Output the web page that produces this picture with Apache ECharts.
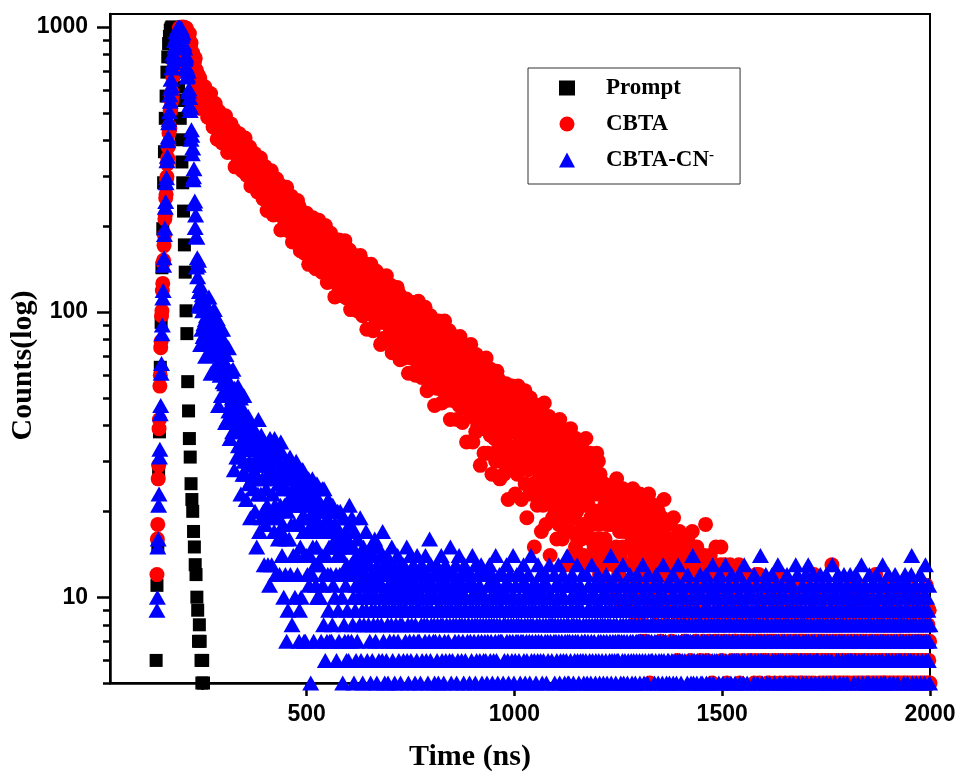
<!DOCTYPE html>
<html><head><meta charset="utf-8">
<script src="https://cdn.jsdelivr.net/npm/echarts@6/dist/echarts.min.js"></script>
<style>html,body{margin:0;padding:0;background:#fff}#chart{width:961px;height:776px}</style>
</head><body><div id="chart"></div>
<script>
// Time channels (ns): first channel and channel width of each measurement
const promptStartNs = 130, promptStepNs = 2;   // instrument response (prompt)
const sampleStartNs = 130, sampleStepNs = 1;   // CBTA and CBTA-CN- decays

const promptCounts = [1,1,2,3,6,11,15,27,38,64,92,143,196,284,365,478,572,694,785,874,926,975,990,1000,996,982,958,905,856,774,706,615,552,478,402,336,284,226,172,138,101,84,57,45,36,31,25,22,20,17,15,13,12,10,9,7,8,7,6,5,6,5,4,3,4,3];

const cbtaCounts = [
1,1,2,1,3,3,2,4,3,4,12,16,18,26,29,39,42,55,60,75,79,97,101,119,126,149,152,171,186,212,219,251,259,292,298,331,347,379,388,425,
448,439,510,508,579,546,592,568,668,678,674,747,708,778,777,862,779,847,840,902,827,929,926,905,992,943,984,924,997,988,971,995,958,1000,991,996,954,994,901,975,
938,989,897,939,952,841,935,876,948,824,856,783,879,784,812,706,812,752,769,679,751,695,777,654,681,705,599,670,631,679,599,625,572,662,582,605,517,614,556,593,
611,566,527,587,572,617,533,569,518,578,545,590,482,548,557,515,569,485,524,584,494,530,479,539,500,446,542,503,473,515,539,446,485,467,512,404,488,476,434,506,
466,421,476,442,494,424,447,392,471,453,421,471,407,451,427,488,389,433,410,449,363,440,421,391,454,400,425,365,457,404,383,433,364,408,390,437,362,414,323,395,
373,417,355,385,399,335,401,369,422,349,377,336,406,350,376,313,390,357,375,319,377,343,408,326,351,374,302,359,336,375,320,343,308,379,322,342,277,354,311,341,
350,317,288,335,325,360,297,325,288,333,310,345,264,315,323,292,333,272,302,347,281,309,271,318,290,250,322,295,273,305,324,256,285,273,308,227,291,284,253,308,
260,298,249,284,266,313,237,271,254,284,219,278,264,240,289,249,268,222,293,253,238,276,223,257,244,280,223,264,194,249,250,216,259,233,273,221,238,196,257,244,
249,223,274,210,231,249,193,237,219,251,208,227,199,255,211,227,176,236,204,227,206,241,192,216,226,179,229,205,246,190,212,180,235,193,213,164,224,198,213,171,
184,206,178,214,191,161,219,198,181,206,222,168,192,183,210,147,199,192,168,213,204,180,157,194,187,214,165,188,159,195,177,205,142,182,188,164,198,149,174,210,
179,152,186,166,198,157,171,138,186,176,157,188,150,178,163,201,141,169,155,180,127,175,164,146,185,153,169,133,189,158,145,177,135,163,152,181,136,169,113,158,
144,174,134,154,162,124,165,146,179,134,152,127,172,137,154,114,164,142,155,120,157,136,178,127,143,158,112,149,134,161,126,141,119,165,129,142,102,151,124,143,
150,130,111,142,136,158,119,137,113,144,129,152,101,133,139,119,147,108,127,158,115,133,110,140,122,97,144,127,114,135,148,103,123,116,139,87,130,124,105,142,
111,137,104,128,117,147,98,121,109,130,86,126,118,102,135,108,121,91,139,112,102,129,93,117,107,132,95,121,77,113,113,92,120,103,130,95,107,81,120,112,
117,100,134,91,105,117,80,111,98,120,92,105,86,124,95,105,72,113,90,107,93,116,84,101,107,75,110,93,122,84,100,78,116,87,100,68,109,92,102,74,
83,99,79,104,90,69,108,93,82,101,111,74,91,84,104,61,96,92,76,106,101,83,69,94,88,108,75,91,70,96,84,103,60,88,93,77,99,66,83,109,
87,68,92,78,101,72,82,59,93,86,73,94,68,87,78,104,62,81,72,89,53,86,79,66,94,72,83,57,97,75,67,89,60,79,72,92,61,84,47,77,
68,88,61,75,81,54,83,69,93,61,74,57,88,64,76,48,83,69,77,53,79,65,93,58,69,80,49,74,64,82,58,69,54,86,61,70,42,76,58,71,
76,62,49,71,66,82,55,68,51,72,62,78,42,65,69,56,75,47,61,82,53,66,49,70,58,41,74,62,52,67,76,46,60,54,70,35,64,61,47,72,
51,69,47,63,55,77,43,58,51,65,35,62,57,46,68,50,60,38,71,53,46,64,40,56,50,67,41,60,29,54,55,39,59,48,66,42,51,32,60,54,
57,45,69,40,49,58,32,53,45,60,40,49,37,63,42,50,27,55,40,51,42,58,36,47,52,30,54,43,62,37,47,33,58,39,48,26,54,43,49,30,
36,47,34,51,41,27,54,44,36,49,56,31,42,38,51,22,46,43,33,53,49,38,28,45,42,55,32,43,30,47,38,51,23,41,45,34,49,27,38,55,
41,29,45,35,51,31,38,22,46,41,32,47,29,42,36,53,25,38,32,44,19,42,37,28,47,32,40,23,50,35,29,44,24,37,33,47,25,41,15,36,
30,44,25,35,39,21,40,31,47,26,35,23,44,28,36,17,41,31,37,21,38,29,48,24,32,39,18,35,29,41,25,32,22,43,27,33,14,37,25,34,
37,27,19,33,30,41,23,32,20,35,28,39,16,30,33,24,37,18,28,42,22,31,20,34,26,16,37,28,22,32,38,17,27,24,34,13,30,28,19,36,
22,34,20,30,25,39,17,27,22,31,14,30,26,19,34,22,28,15,36,24,20,31,16,26,22,33,17,29,13,25,25,16,28,21,33,18,24,14,30,26,
28,21,36,17,23,29,13,26,21,30,18,23,16,32,19,24,13,28,18,25,19,30,15,23,26,13,27,20,32,16,23,14,30,18,24,12,27,20,24,13,
16,23,15,24,19,11,25,21,16,24,24,13,20,18,23,10,23,21,14,24,23,18,11,22,20,22,14,21,13,24,18,23,10,20,22,15,26,11,18,23,
20,12,23,17,23,14,19,9,23,20,15,24,13,21,17,22,11,19,15,22,9,21,18,13,22,15,20,9,21,17,13,23,10,19,16,24,11,21,8,18,
14,23,11,17,20,8,21,15,22,12,17,10,23,13,18,7,21,15,19,8,20,13,22,10,16,20,7,18,14,21,11,16,9,23,12,17,5,19,11,17,
16,11,19,13,9,15,21,12,14,8,17,13,10,18,15,12,20,9,14,16,11,13,7,17,14,19,10,12,15,9,22,13,11,16,14,8,12,18,13,10,
13,9,16,12,10,18,11,14,7,13,15,10,12,19,9,11,14,8,12,16,10,13,6,12,15,11,9,17,12,10,13,8,14,11,16,9,12,10,13,7,
12,9,14,10,7,13,11,16,8,12,10,15,9,11,6,13,12,9,17,10,11,8,14,12,9,10,13,7,11,15,10,12,8,11,14,9,10,13,6,11,
11,8,13,10,7,12,9,14,10,8,18,11,9,12,6,10,13,9,11,7,10,14,8,12,9,11,5,10,13,8,11,9,12,7,10,15,9,11,8,10,
10,7,12,9,11,8,13,15,9,6,10,12,8,11,9,7,13,10,8,11,9,5,12,10,8,9,11,7,10,13,8,9,11,6,10,12,9,8,10,7,
9,11,7,10,8,12,6,9,10,8,13,9,5,11,8,10,7,9,12,8,6,10,9,11,7,8,10,4,9,12,8,7,10,9,6,11,8,9,7,10,
8,10,6,9,7,11,8,5,9,10,7,8,12,6,9,8,10,7,12,9,5,8,10,7,9,6,11,8,4,9,10,7,8,11,6,9,8,10,7,5,
9,6,8,10,5,8,7,11,9,4,8,7,10,6,9,8,5,11,7,8,6,9,10,4,8,7,9,6,12,8,5,7,9,8,6,10,7,3,9,8,
7,9,5,8,6,10,7,4,9,8,6,11,7,5,8,9,6,7,10,5,8,3,9,7,6,8,10,7,5,9,6,8,4,7,11,6,8,9,5,7,
8,5,7,9,6,4,10,7,8,6,5,9,7,11,6,8,3,7,9,5,8,6,10,7,4,8,6,9,7,5,8,12,6,7,9,4,7,8,6,10,
6,9,7,4,8,5,10,7,6,8,3,9,7,5,8,6,11,7,4,9,6,8,5,7,10,6,3,8,7,5,9,6,8,4,13,7,6,9,5,8,
7,5,9,6,4,8,7,10,5,6,8,3,7,9,6,5,8,7,4,10,6,7,5,9,8,3,6,7,11,5,8,6,4,7,9,6,5,8,7,4,
6,8,4,7,9,5,6,10,7,3,8,6,5,9,7,4,6,8,11,5,7,6,4,9,8,5,7,3,6,10,7,5,8,6,4,9,7,6,8,5,
8,5,6,9,4,7,6,10,5,7,3,8,6,9,5,7,4,8,6,12,5,7,9,4,6,8,5,7,3,9,6,5,8,7,4,10,6,7,5,8,
5,7,9,4,6,8,5,7,10,3,6,8,7,5,9,4,6,7,8,5,11,6,4,7,9,5,6,8,3,7,6,9,5,4,8,7,6,10,5,7,
7,4,8,6,9,5,7,3,6,10,5,8,6,4,7,9,5,6,8,7,4,6,11,5,7,8,3,6,9,5,7,6,4,8,10,5,7,6,9,4,
6,8,5,7,4,9,6,7,10,5,3,8,6,7,5,9,4,6,8,7,5,11,6,4,7,8,5,6,9,7,5];

const cnCounts = [
1,1,1,2,3,2,4,3,4,4,9,10,15,16,21,23,31,33,44,47,61,66,84,90,112,119,146,155,187,197,233,244,284,296,339,352,399,411,461,473,
504,578,549,610,655,621,721,717,805,750,808,788,897,852,905,848,961,937,977,920,993,974,997,966,1000,995,936,990,966,989,925,941,882,954,865,872,774,844,770,782,
796,728,668,712,676,699,593,606,532,565,509,523,404,436,417,359,376,291,298,318,240,245,198,219,184,144,183,155,133,146,152,105,118,108,124,77,110,105,87,115,
101,82,105,91,113,84,94,70,104,97,84,105,78,97,87,113,71,90,80,97,61,93,86,73,100,77,88,63,102,80,71,92,63,82,75,95,63,86,47,78,
68,87,60,73,78,51,79,65,87,57,68,51,79,56,66,41,71,58,64,42,64,51,75,45,54,62,36,56,48,62,42,50,38,63,43,50,28,54,39,50,
53,41,31,47,43,55,34,43,31,46,38,50,23,40,43,33,46,27,36,51,30,39,27,41,33,22,43,35,29,38,43,25,33,30,39,19,35,33,26,40,
27,37,24,36,30,36,20,33,27,37,15,36,31,23,42,26,33,17,33,29,23,37,19,31,26,34,20,34,13,29,30,18,33,24,33,21,27,13,34,30,
32,11,36,19,26,33,13,29,23,34,20,26,17,36,21,27,12,31,19,28,20,33,16,25,28,12,29,21,35,17,24,14,32,18,25,10,29,21,26,12,
16,24,7,27,20,9,30,22,16,26,31,12,21,18,28,8,24,22,14,29,27,18,10,23,21,30,14,22,12,25,18,28,7,9,23,15,27,10,19,28,
21,28,24,17,7,14,19,7,25,21,14,26,12,22,17,26,11,19,14,23,5,22,18,12,26,15,20,7,25,17,13,23,11,19,15,25,10,21,10,18,
13,24,10,17,20,7,21,14,24,11,17,8,24,12,18,6,21,14,18,7,19,12,22,9,15,20,7,17,12,21,7,15,8,21,11,15,4,18,10,16,
18,12,6,16,14,20,9,15,7,17,12,20,3,14,16,10,19,5,12,19,8,15,7,17,11,3,6,13,9,16,7,6,12,21,18,3,15,13,7,19,
12,8,15,10,5,13,17,9,11,6,14,12,7,16,10,4,13,11,8,19,10,6,12,14,9,5,11,15,8,13,10,3,12,17,9,11,6,14,10,8,
10,13,7,11,5,15,9,12,6,10,14,8,4,11,16,9,7,12,10,5,13,8,11,15,6,9,12,3,10,14,8,11,6,17,9,7,13,10,5,12,
9,12,6,10,14,8,5,11,9,13,7,10,4,12,8,15,9,6,11,10,7,13,5,9,12,8,10,3,11,14,7,9,6,12,10,8,5,13,9,11,
8,11,10,6,13,9,4,12,7,10,9,15,6,11,8,5,10,12,7,9,14,6,10,8,11,3,9,13,7,10,12,5,8,11,9,6,14,10,7,9,
10,7,12,9,5,11,8,13,6,10,9,4,12,8,11,7,14,9,6,10,8,12,5,9,11,7,16,10,6,13,8,9,4,11,10,7,12,8,5,10,
7,10,9,13,6,8,11,5,9,12,7,10,3,8,14,9,6,11,8,10,5,12,7,9,13,6,10,8,4,11,9,7,12,10,6,8,15,9,5,10,
9,6,11,8,10,4,12,7,9,13,8,5,10,11,6,9,7,14,8,10,3,9,12,6,8,11,7,10,5,9,13,8,6,10,9,12,4,7,11,8,
8,11,5,9,7,12,10,6,8,14,9,4,11,7,10,8,5,13,9,6,10,8,12,7,3,9,11,6,8,10,13,7,5,9,12,8,6,10,9,7,
10,6,8,12,5,9,7,11,4,8,13,9,6,10,7,8,12,5,9,11,6,8,3,10,7,14,9,6,8,11,5,10,7,9,12,8,4,7,10,9,
7,9,12,5,8,10,6,11,8,4,9,13,7,10,6,8,5,11,9,7,12,3,8,10,6,9,7,14,8,5,10,9,6,11,7,8,12,4,9,7,
8,6,10,9,5,12,7,8,11,4,9,7,13,6,10,8,5,9,11,7,6,10,8,3,12,9,7,5,10,8,14,6,9,7,11,8,4,10,6,9,
9,7,5,11,8,10,6,13,7,9,4,8,12,6,10,7,9,5,11,8,6,9,3,10,7,12,8,5,9,11,7,6,10,8,13,4,9,7,8,10,
6,10,8,4,9,7,12,5,8,11,7,9,6,10,3,8,13,7,9,5,11,6,8,10,7,4,9,12,6,8,10,5,7,11,9,6,8,14,7,5,
8,5,11,7,9,6,10,4,8,12,7,9,5,8,11,6,10,7,3,9,8,13,6,7,10,5,9,8,11,6,4,10,7,9,12,6,8,5,10,7,
7,10,6,8,12,5,9,7,4,11,8,6,10,9,5,7,13,8,6,10,4,9,7,11,8,5,6,10,9,3,8,12,7,6,9,5,11,8,7,10,
9,6,8,11,5,7,10,4,8,9,6,12,7,5,10,8,3,9,11,6,7,8,14,5,9,6,10,7,4,8,11,6,9,7,5,12,8,6,10,7,
6,9,7,4,10,8,5,11,7,9,6,13,8,5,7,10,6,9,3,8,11,7,5,9,6,10,8,4,12,7,9,6,8,5,10,7,11,6,4,9,
8,5,10,7,6,12,9,4,7,8,11,6,5,9,7,10,3,8,6,13,7,9,5,8,10,6,4,11,7,9,5,8,12,6,7,10,4,9,8,6,
7,10,6,8,4,9,11,5,7,8,6,12,9,3,7,10,5,8,6,9,11,7,4,8,6,10,5,9,13,7,6,8,10,4,7,9,5,11,8,6,
9,6,8,5,11,7,4,10,8,6,9,12,5,7,8,3,10,6,9,7,5,11,8,6,13,7,4,9,6,10,8,5,7,11,6,9,4,8,10,7,
6,8,10,4,7,9,5,12,7,6,8,11,3,9,7,5,10,6,8,14,7,5,9,6,4,10,8,7,11,5,6,9,7,8,3,10,6,12,8,5,
8,7,5,10,6,9,4,11,7,8,6,12,5,9,7,3,10,8,6,9,5,11,7,4,8,10,6,13,7,5,9,8,6,10,4,7,11,6,8,9,
7,10,5,8,12,6,9,4,7,11,8,6,5,10,7,9,3,8,13,6,7,9,5,10,8,4,11,7,6,9,8,5,10,12,6,7,4,9,8,6,
9,5,7,11,6,8,10,4,7,9,6,12,8,5,3,10,7,9,6,8,11,5,7,13,6,9,4,8,10,7,5,9,6,11,8,4,7,10,6,8,
6,9,8,4,10,7,5,12,8,6,9,3,11,7,8,5,10,6,9,7,4,8,14,6,7,10,5,9,8,6,11,4,7,9,6,12,8,5,10,7,
8,6,11,7,5,9,10,4,7,8,12,6,9,3,7,10,5,8,6,11,7,9,4,8,13,6,7,10,5,9,8,6,4,11,7,9,6,10,8,5,
7,10,5,8,6,9,12,4,7,8,11,6,5,9,7,10,3,8,6,11,9,5,7,10,6,8,4,13,7,9,6,12,8,5,10,7,4,9,6,8,
9,6,8,11,5,7,10,4,8,6,9,12,7,5,10,8,6,13,7,4,9,11,6,8,5,10,7,3,9,12,6,8,7,10,5,9,11,6,4,8,
6,10,7,5,9,8,12,4,7,9,6,11,8,5,10,7,3,9,6,8,12,5,7,10,8,6,4,11,9,7,5,10,8,6,9,13,7,4,8,10,
8,5,11,7,9,6,4,10,8,12,6,7,9,5,11,8,3,7,10,6,9,8,5,12,7,4,10,6,9,8,11,5,7,6,10,9,4,8,12,6,
7,9,6,10,4,8,11,5,9,7,6,12,8,3,10,7,9,5,11,6,8,10,4,7,9,13,6,8,5,10,7,9,6,4,11,8,7,10,5,9,
10,6,8,5,12,7,9,4,8,11,6,7,10,5,9,8,3,11,7,6,9,12,5,8,7,10,4,9,6,8,11,7,5,10,8,6,13,7,9,5,
8,11,5,7,9,6,10,4,8,7,12,6,9,5,8,10,3,7,11,6,9,8,5,10,7,4,12,8,6,9,7,11,5,8,10,6,4,9,7,8,
6,9,8,4,11,7,10,5,8,6,12,9,7,3,10,8,5,11,6,9,7,4,10,8,6,12,14,7,5,9,8,6,10,4,7,11,8,5,9,7,
9,6,10,7,4,8,12,5,9,7,11,6,8,3,10,7,9,5,8,13,6,7,10,4,8,9,6,11,7,5,8];

const seriesNames = ['Prompt', 'CBTA', 'CBTA-CN\u207B'];
const xTickValues = [500, 1000, 1500, 2000];
const xMinorTickValues = [250, 750, 1250, 1750];
const yTickValues = [10, 100, 1000];
const yMinorTickValues = [5,6,7,8,9,20,30,40,50,60,70,80,90,200,300,400,500,600,700,800,900];

function toPoints(counts, start, step) {
  return counts.map(function (c, i) { return [start + i * step, c]; });
}
function plainNumber(v) { return String(v); }

const SANS = 'Liberation Sans, Arial, sans-serif';
const SERIF = 'Liberation Serif, Times New Roman, serif';
const axisLineStyle = { color: '#000', width: 2.5 };
const xMin = 27, xMax = 2000, yMin = 5, yMax = 1110;

const chart = echarts.init(document.getElementById('chart'), null, { renderer: 'canvas' });
chart.setOption({
  animation: false,
  backgroundColor: '#fff',
  grid: { left: 110, right: 31, top: 14, bottom: 93, containLabel: false, outerBoundsMode: 'none',
          show: true, borderColor: '#000', borderWidth: 2, backgroundColor: 'transparent' },
  legend: {
    data: seriesNames,
    orient: 'vertical', left: 528, top: 68,
    padding: [8, 26, 12, 31], itemGap: 12, itemWidth: 16, itemHeight: 15,
    borderColor: '#333', borderWidth: 1,
    formatter: function (name) { return name === seriesNames[2] ? 'CBTA-CN{sup|-}' : name; },
    textStyle: {
      fontFamily: SERIF, fontWeight: 'bold', fontSize: 23, color: '#000', lineHeight: 24, padding: [0, 0, 0, 26],
      rich: { sup: { fontFamily: SERIF, fontWeight: 'bold', fontSize: 15, lineHeight: 12, verticalAlign: 'top', color: '#000' } }
    }
  },
  xAxis: [
    {
      type: 'value', min: xMin, max: xMax, position: 'bottom',
      axisLine: { lineStyle: axisLineStyle },
      axisTick: { customValues: xTickValues, length: 13, lineStyle: { color: '#000', width: 2.5 } },
      axisLabel: { customValues: xTickValues, formatter: plainNumber, margin: 20, fontSize: 23, fontWeight: 'bold', fontFamily: SANS, color: '#000' },
      splitLine: { show: false },
      name: 'Time (ns)', nameLocation: 'middle', nameGap: 59, nameMoveOverlap: false,
      nameTextStyle: { fontFamily: SERIF, fontWeight: 'bold', fontSize: 30, color: '#000', padding: [0, 100, 0, 0] }
    },
    {
      type: 'value', min: xMin, max: xMax, position: 'bottom',
      axisLine: { show: false },
      axisTick: { customValues: xMinorTickValues, length: 7, lineStyle: { color: '#000', width: 2.5 } },
      axisLabel: { show: false }, splitLine: { show: false }
    }
  ],
  yAxis: [
    {
      type: 'log', logBase: 10, min: yMin, max: yMax, position: 'left',
      axisLine: { show: true, lineStyle: axisLineStyle },
      axisTick: { show: true, customValues: yTickValues, length: 13, lineStyle: { color: '#000', width: 2.5 } },
      axisLabel: { customValues: yTickValues, formatter: plainNumber, margin: 22, fontSize: 23, fontWeight: 'bold', fontFamily: SANS, color: '#000' },
      splitLine: { show: false },
      name: 'Counts(log)', nameLocation: 'middle', nameGap: 72, nameRotate: 90, nameMoveOverlap: false,
      nameTextStyle: { fontFamily: SERIF, fontWeight: 'bold', fontSize: 30, color: '#000', padding: [0, 34, 0, 0] }
    },
    {
      type: 'log', logBase: 10, min: yMin, max: yMax, position: 'left',
      axisLine: { show: false },
      axisTick: { show: true, customValues: yMinorTickValues, length: 7, lineStyle: { color: '#000', width: 2.5 } },
      axisLabel: { show: false }, splitLine: { show: false }
    }
  ],
  series: [
    { name: seriesNames[0], type: 'scatter', data: toPoints(promptCounts, promptStartNs, promptStepNs), symbol: 'rect', symbolSize: 13, itemStyle: { color: '#000', opacity: 1 }, clip: true, large: false },
    { name: seriesNames[1], type: 'scatter', data: toPoints(cbtaCounts, sampleStartNs, sampleStepNs), symbol: 'circle', symbolSize: 15, itemStyle: { color: '#ff0000', opacity: 1 }, clip: true, large: false },
    { name: seriesNames[2], type: 'scatter', data: toPoints(cnCounts, sampleStartNs, sampleStepNs), symbol: 'triangle', symbolSize: [17, 15], itemStyle: { color: '#0000ff', opacity: 1 }, clip: true, large: false }
  ]
});
</script>
</body></html>
